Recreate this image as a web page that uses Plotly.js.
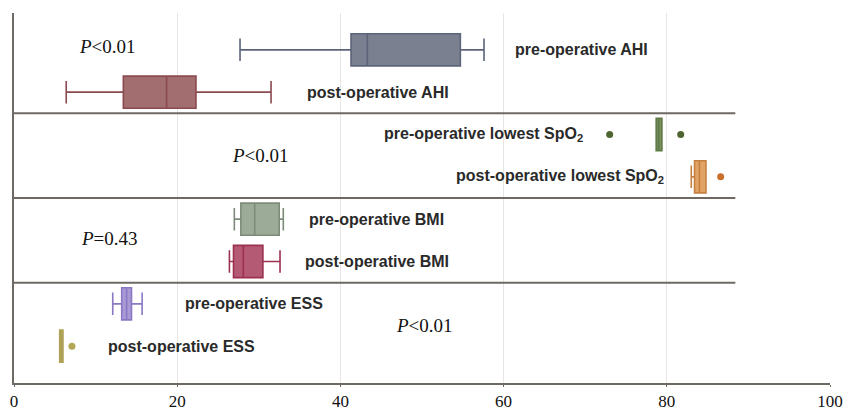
<!DOCTYPE html>
<html>
<head>
<meta charset="utf-8">
<script src="https://cdn.plot.ly/plotly-3.0.1.min.js"></script>
<style>html,body{margin:0;padding:0;background:#fff;}#chart{width:846px;height:410px;}</style>
</head>
<body>
<div id="chart"></div>
<script>
// Data
var categories = ["pre-operative AHI", "post-operative AHI", "pre-operative lowest SpO<sub>2</sub>", "post-operative lowest SpO<sub>2</sub>", "pre-operative BMI", "post-operative BMI", "pre-operative ESS", "post-operative ESS"];
var lowerFence = [27.7, 6.4, 78.7, 83.0, 27.0, 26.4, 12.1, 5.6];
var q1Values   = [41.3, 13.4, 78.7, 83.4, 27.8, 26.9, 13.2, 5.6];
var medians    = [43.3, 18.7, 79.0, 84.0, 29.5, 28.1, 13.8, 5.8];
var q3Values   = [54.7, 22.3, 79.4, 84.8, 32.5, 30.5, 14.4, 6.0];
var upperFence = [57.6, 31.5, 79.4, 84.8, 33.0, 32.6, 15.7, 6.0];
var outlierGroup = [2, 2, 3, 7];
var outlierValues = [73.0, 81.7, 86.6, 7.1];
var pTexts = ["<i>P</i>&lt;0.01", "<i>P</i>&lt;0.01", "<i>P</i>=0.43", "<i>P</i>&lt;0.01"];
var xTicks = [0, 20, 40, 60, 80, 100];

// Styles
var fills = ["#7b8090", "#a26e70", "#7a9160", "#e2a466", "#9caa98", "#b55a74", "#a99ad6", "#cfc58a"];
var lines = ["#5c6479", "#8b4a4f", "#5f7a45", "#c5803f", "#7c8c79", "#9b3050", "#8a78c4", "#aea256"];
var dotColors = ["#4f6530", "#4f6530", "#c86f2c", "#b3a855"];
var labelX = [61.1, 35.7, 70.0, 79.9, 35.9, 35.4, 20.7, 11.3];
var labelAnchor = ["left", "left", "right", "right", "left", "left", "left", "left"];
var pPos = [[11.5, -0.07], [30.2, 2.5], [11.7, 4.46], [50.3, 6.5]];

var traces = [];
categories.forEach(function (c, i) {
  traces.push({
    type: "box", orientation: "h",
    y: [i], q1: [q1Values[i]], median: [medians[i]], q3: [q3Values[i]],
    lowerfence: [lowerFence[i]], upperfence: [upperFence[i]],
    width: 0.76, whiskerwidth: 0.7,
    fillcolor: fills[i], line: {color: lines[i], width: 1.6},
    hoverinfo: "skip", showlegend: false
  });
});
outlierValues.forEach(function (v, k) {
  traces.push({
    type: "scatter", mode: "markers", x: [v], y: [outlierGroup[k]],
    marker: {color: dotColors[k], size: 7}, hoverinfo: "skip", showlegend: false
  });
});

var annotations = [];
categories.forEach(function (c, i) {
  annotations.push({
    x: labelX[i], y: i, xref: "x", yref: "y", text: c, showarrow: false,
    xanchor: labelAnchor[i], yanchor: "middle",
    font: {family: "Liberation Sans, Arial, sans-serif", size: 16, color: "#2a2a2a", weight: "bold"}
  });
});
pTexts.forEach(function (t, k) {
  annotations.push({
    x: pPos[k][0], y: pPos[k][1], xref: "x", yref: "y", text: t, showarrow: false,
    xanchor: "center", yanchor: "middle",
    font: {family: "Liberation Serif, Times New Roman, serif", size: 19, color: "#111"}
  });
});

var sepColor = "#6f6963";
var shapes = [1.5, 3.5, 5.5].map(function (yv) {
  return {type: "line", xref: "x", yref: "y", x0: 0, x1: 88.4, y0: yv, y1: yv,
          line: {color: sepColor, width: 2}};
});

var layout = {
  width: 846, height: 410,
  margin: {l: 14, r: 16, t: 13, b: 27, pad: 0},
  paper_bgcolor: "#fff", plot_bgcolor: "#fff",
  showlegend: false,
  xaxis: {
    range: [0, 100], tickvals: xTicks, ticktext: xTicks.map(String),
    showgrid: true, gridcolor: "#e9e5e0", gridwidth: 1,
    zeroline: false, showline: true, linecolor: sepColor, linewidth: 2,
    ticks: "outside", ticklen: 2, tickcolor: sepColor,
    tickfont: {family: "Liberation Serif, Times New Roman, serif", size: 17, color: "#111"},
    automargin: false, fixedrange: true
  },
  yaxis: {
    range: [7.87, -0.87], showgrid: false, zeroline: false,
    showticklabels: false, ticks: "",
    showline: true, linecolor: sepColor, linewidth: 2, fixedrange: true
  },
  annotations: annotations,
  shapes: shapes
};

Plotly.newPlot("chart", traces, layout, {staticPlot: true, displayModeBar: false});
</script>
</body>
</html>
